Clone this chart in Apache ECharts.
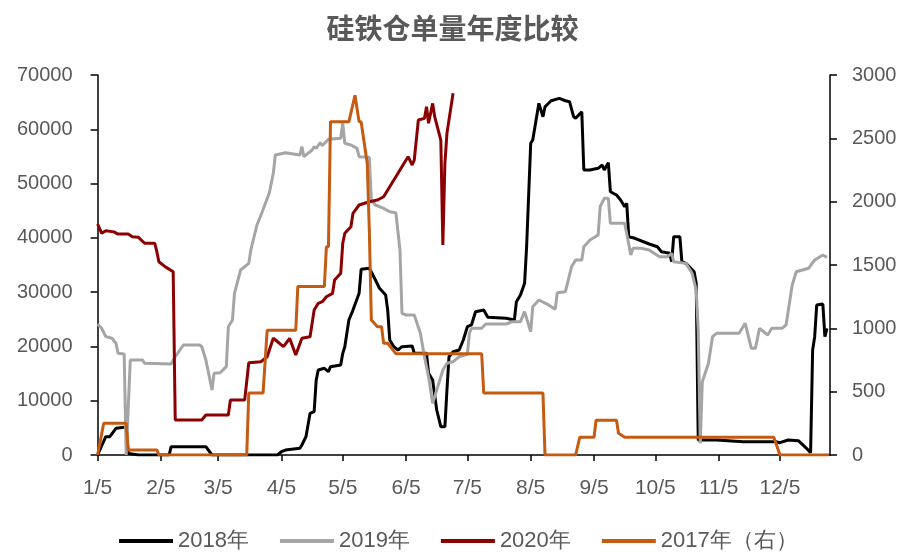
<!DOCTYPE html>
<html><head><meta charset="utf-8">
<script src="https://cdn.jsdelivr.net/npm/echarts@6/dist/echarts.min.js"></script>
<style>html,body{margin:0;padding:0;background:#fff}#c{width:905px;height:552px}</style>
</head><body><div id="c"></div>
<script>
// tick labels on the x axis (5th of each month)
const tickLabels = ['1/5','2/5','3/5','4/5','5/5','6/5','7/5','8/5','9/5','10/5','11/5','12/5'];

// 2018年 (left axis)
const dates2018 = ['1/5','1/9','1/11','1/14','1/18','1/19','1/20','1/25','2/9','2/10','2/27','3/2','4/3','4/5','4/7','4/14','4/15','4/17','4/19','4/21','4/22','4/23','4/26','4/28','4/29','5/4','5/5','5/6','5/8','5/10','5/13','5/14','5/18','5/21','5/23','5/26','5/27','5/28','5/30','6/1','6/3','6/8','6/9','6/15','6/16','6/18','6/20','6/22','6/24','6/25','6/26','6/28','7/1','7/3','7/5','7/7','7/9','7/13','7/15','7/24','7/28','7/29','7/31','8/2','8/3','8/5','8/6','8/9','8/11','8/12','8/15','8/19','8/22','8/24','8/26','8/27','8/30','8/31','9/3','9/7','9/9','9/10','9/12','9/13','9/16','9/18','9/20','9/21','9/22','9/25','10/2','10/6','10/8','10/12','10/13','10/14','10/17','10/18','10/20','10/24','10/25','10/26','11/4','11/17','12/3','12/5','12/9','12/14','12/18','12/20','12/21','12/22','12/23','12/26','12/27','12/28'];
const values2018 = [0,3380,3380,4910,5100,5100,300,0,0,1530,1530,0,0,600,920,1230,1840,3380,7680,7980,13800,15660,15970,15350,16270,16580,18730,19950,24870,26700,29780,34200,34390,32240,30710,29470,26700,21190,19950,19340,19950,20080,18730,18730,15050,13820,8290,5210,5210,11970,18100,19030,19340,21190,23630,23950,26400,26700,25360,25180,24870,28240,29470,31630,38370,57420,58020,64780,62320,64150,65260,65700,65260,65080,62320,62020,63230,52500,52500,52810,53420,52500,53850,48500,47890,46970,45740,46360,40210,39920,38870,38370,37450,37150,35600,40210,40210,35600,35300,33760,31630,2760,2760,2450,2450,2270,2760,2640,1230,420,19340,21800,27630,27810,21800,23340];

// 2019年 (left axis)
const dates2019 = ['1/5','1/7','1/9','1/12','1/14','1/15','1/18','1/19','1/21','1/27','1/28','2/10','2/12','2/16','2/24','2/25','2/27','3/2','3/3','3/6','3/9','3/10','3/12','3/13','3/16','3/20','3/21','3/24','3/26','3/30','4/1','4/2','4/7','4/14','4/15','4/16','4/20','4/21','4/22','4/24','4/25','4/28','5/4','5/5','5/6','5/9','5/12','5/13','5/18','5/19','5/21','5/25','5/28','5/31','6/2','6/3','6/5','6/9','6/12','6/14','6/16','6/18','6/20','6/23','6/25','6/28','7/1','7/5','7/6','7/7','7/12','7/14','7/24','7/27','7/31','8/2','8/5','8/6','8/9','8/13','8/17','8/18','8/22','8/25','8/27','8/30','8/31','9/3','9/7','9/8','9/10','9/12','9/13','9/20','9/23','9/24','9/28','10/2','10/7','10/11','10/13','10/14','10/20','10/23','10/25','10/26','10/27','10/28','10/31','11/2','11/4','11/15','11/18','11/21','11/23','11/25','11/29','12/1','12/6','12/8','12/11','12/13','12/19','12/22','12/26','12/28'];
const values2019 = [24130,23340,21800,21500,20580,18730,18600,0,17500,17500,16890,16760,18100,20260,20260,19950,17500,11970,15050,15160,16270,23630,24870,29780,34080,35300,37760,42370,44210,48200,51890,55260,55680,55260,56790,54950,56180,56790,56500,57530,57000,58150,58340,61100,57420,57100,56490,54950,54830,46970,46050,45440,44820,44630,37760,26100,25790,25790,22420,18100,14420,9520,11970,15660,16890,17190,18100,18600,22420,23340,23340,24130,24130,24560,24560,26400,22710,27320,28550,27810,26840,29900,30080,34690,35920,35920,38370,39600,40520,45740,47280,47280,42680,42680,36840,38070,38070,37760,36530,36530,37150,35600,35300,33470,30390,23030,2150,13500,16890,21800,22420,22420,24260,19650,19650,23340,22100,23340,23340,23950,31310,33760,34390,35920,36840,36410];

// 2020年 (left axis)
const dates2020 = ['1/5','1/7','1/9','1/13','1/15','1/20','1/22','1/25','1/28','2/2','2/3','2/4','2/7','2/11','2/12','2/25','2/27','3/10','3/11','3/18','3/20','3/26','3/29','4/1','4/4','4/6','4/9','4/12','4/15','4/19','4/21','4/23','4/25','4/27','4/30','5/1','5/4','5/5','5/6','5/9','5/10','5/13','5/18','5/22','5/25','5/28','5/31','6/4','6/6','6/8','6/9','6/11','6/14','6/15','6/16','6/18','6/19','6/22','6/23','6/24','6/25','6/28'];
const values2020 = [42550,40840,41300,41100,40700,40700,40200,40100,39000,39000,37450,35600,34700,33760,6450,6450,7370,7370,10130,10130,17000,17190,18100,21500,20580,19950,21500,18420,21500,21800,26700,27940,28240,29160,29780,32240,33470,39000,40840,42050,44520,46050,46660,46970,47580,49420,51260,53730,54950,53420,54340,61700,62020,64150,61100,64770,62320,58020,38680,53730,59250,66620];

// 2017年（右） (right axis)
const dates2017 = ['1/5','1/8','1/19','1/20','2/3','2/4','3/19','3/20','3/27','3/29','4/12','4/13','4/26','4/27','4/28','4/29','5/8','5/11','5/13','5/14','5/17','5/18','5/19','5/22','5/24','5/25','5/27','5/31','7/12','7/13','8/11','8/12','8/27','8/29','9/5','9/6','9/16','9/17','9/20','12/2','12/5','12/29'];
const values2017 = [0,250,250,40,40,0,0,490,490,985,985,1330,1330,1645,1645,2630,2630,2840,2630,2630,2300,1776,1066,1013,1013,882,882,800,800,490,490,0,0,140,140,275,275,171,140,140,0,0];

const DAY = 86400000;
const BASE = Date.UTC(2018, 0, 5);
function dayOf(md) { const p = md.split('/'); return (Date.UTC(2018, +p[0] - 1, +p[1]) - BASE) / DAY; }
function pairs(ds, vs) { return ds.map((d, i) => [dayOf(d), vs[i]]); }
const tickDays = tickLabels.map(dayOf);

const txt = '#595959';
const FONT = 'Liberation Sans';
const chart = echarts.init(document.getElementById('c'));
chart.setOption({
  animation: false,
  backgroundColor: '#fff',
  title: {
    text: '硅铁仓单量年度比较', left: 'center', top: 9,
    textStyle: { fontFamily: 'Noto Sans CJK SC', fontSize: 28, fontWeight: 'bold', color: txt }
  },
  legend: {
    top: 525, left: 114, itemGap: 31, itemWidth: 54, itemHeight: 4, icon: 'rect',
    textStyle: { fontFamily: FONT, fontSize: 22, color: txt },
    data: ['2018年', '2019年', '2020年', '2017年（右）']
  },
  grid: { left: 97.6, right: 75, top: 75, bottom: 97, containLabel: false },
  xAxis: {
    type: 'value', min: 0, max: 358.5,
    splitLine: { show: false },
    axisLine: { show: true, onZero: false, lineStyle: { color: '#000', width: 1.5 } },
    axisTick: { show: true, customValues: tickDays, length: 6, lineStyle: { color: '#000', width: 1.5 } },
    axisLabel: {
      customValues: tickDays, margin: 23, fontFamily: FONT, fontSize: 21, color: txt,
      formatter: v => { const i = tickDays.indexOf(Math.round(v)); return i >= 0 ? tickLabels[i] : ''; }
    }
  },
  yAxis: [{
    type: 'value', min: 0, max: 70000, interval: 10000, position: 'left',
    splitLine: { show: false },
    axisLine: { show: true, lineStyle: { color: '#000', width: 1.5 } },
    axisTick: { show: true, length: 7, lineStyle: { color: '#000', width: 1.5 } },
    axisLabel: { margin: 25, fontFamily: FONT, fontSize: 20, color: txt, formatter: v => String(v) }
  }, {
    type: 'value', min: 0, max: 3000, interval: 500, position: 'right',
    splitLine: { show: false },
    axisLine: { show: true, lineStyle: { color: '#000', width: 1.5 } },
    axisTick: { show: true, length: 7, lineStyle: { color: '#000', width: 1.5 } },
    axisLabel: { margin: 22, fontFamily: FONT, fontSize: 20, color: txt, formatter: v => String(v) }
  }],
  series: [
    { name: '2018年', type: 'line', yAxisIndex: 0, showSymbol: false, color: '#000000', lineStyle: { width: 3 }, data: pairs(dates2018, values2018) },
    { name: '2019年', type: 'line', yAxisIndex: 0, showSymbol: false, color: '#A5A5A5', lineStyle: { width: 3 }, data: pairs(dates2019, values2019) },
    { name: '2020年', type: 'line', yAxisIndex: 0, showSymbol: false, color: '#8B0000', lineStyle: { width: 3 }, data: pairs(dates2020, values2020), z: 3 },
    { name: '2017年（右）', type: 'line', yAxisIndex: 1, showSymbol: false, color: '#C55A11', lineStyle: { width: 3 }, data: pairs(dates2017, values2017), z: 4 }
  ]
});
</script></body></html>
